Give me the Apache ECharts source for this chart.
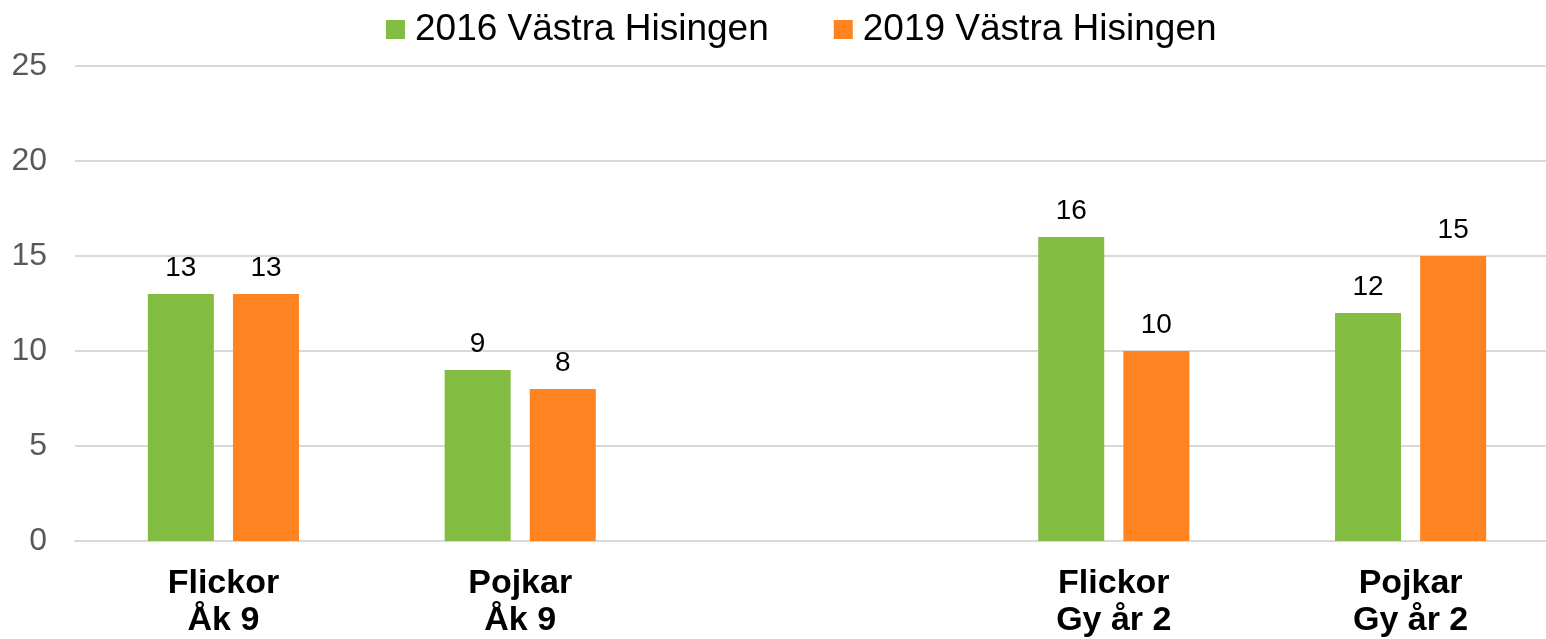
<!DOCTYPE html>
<html lang="sv">
<head>
    <meta charset="UTF-8">
    <title>Västra Hisingen</title>
    <script src="https://cdn.jsdelivr.net/npm/echarts@6/dist/echarts.min.js"></script>
    <style>
        html, body { margin: 0; padding: 0; background: #ffffff; overflow: hidden; }
    </style>
</head>
<body>
<!-- plot runs a little past the right edge of the window, as in the original -->
<div id="chart" style="width: 1559px; height: 639px;"></div>
<script>
    // data
    var categories = ['Flickor\nÅk 9', 'Pojkar\nÅk 9', '', 'Flickor\nGy år 2', 'Pojkar\nGy år 2'];
    var seriesNames = ['2016 Västra Hisingen', '2019 Västra Hisingen'];
    var values2016 = [13, 9, null, 16, 12];
    var values2019 = [13, 8, null, 10, 15];

    var font = '"Liberation Sans", Arial, sans-serif';
    var chart = echarts.init(document.getElementById('chart'));

    var labelStyle = {
        show: true,
        position: 'top',
        distance: 12,
        color: '#000000',
        fontSize: 28,
        fontFamily: font
    };

    chart.setOption({
        backgroundColor: '#ffffff',
        animation: false,
        legend: {
            top: 6,
            left: 381,
            itemWidth: 19,
            itemHeight: 19,
            itemGap: 65,
            icon: 'rect',
            textStyle: { fontSize: 37, color: '#000000', fontFamily: font, padding: [0, 0, 0, 5] },
            data: seriesNames
        },
        grid: { left: 75, top: 66, right: 0, bottom: 98, containLabel: false },
        xAxis: {
            type: 'category',
            data: categories,
            axisTick: { show: false },
            axisLine: { lineStyle: { color: '#d9d9d9', width: 2 } },
            axisLabel: {
                margin: 24,
                fontSize: 34,
                fontWeight: 'bold',
                lineHeight: 37,
                color: '#000000',
                fontFamily: font
            }
        },
        yAxis: {
            type: 'value',
            min: 0,
            max: 25,
            interval: 5,
            axisLine: { show: false },
            axisTick: { show: false },
            splitLine: { lineStyle: { color: '#d9d9d9', width: 2 } },
            axisLabel: { margin: 28, fontSize: 32, color: '#595959', fontFamily: font }
        },
        series: [{
            name: seriesNames[0],
            type: 'bar',
            data: values2016,
            barWidth: 66,
            barGap: '29%',
            itemStyle: { color: '#82bc41' },
            label: labelStyle
        }, {
            name: seriesNames[1],
            type: 'bar',
            data: values2019,
            barWidth: 66,
            itemStyle: { color: '#ff8320' },
            label: labelStyle
        }]
    });
</script>
</body>
</html>
